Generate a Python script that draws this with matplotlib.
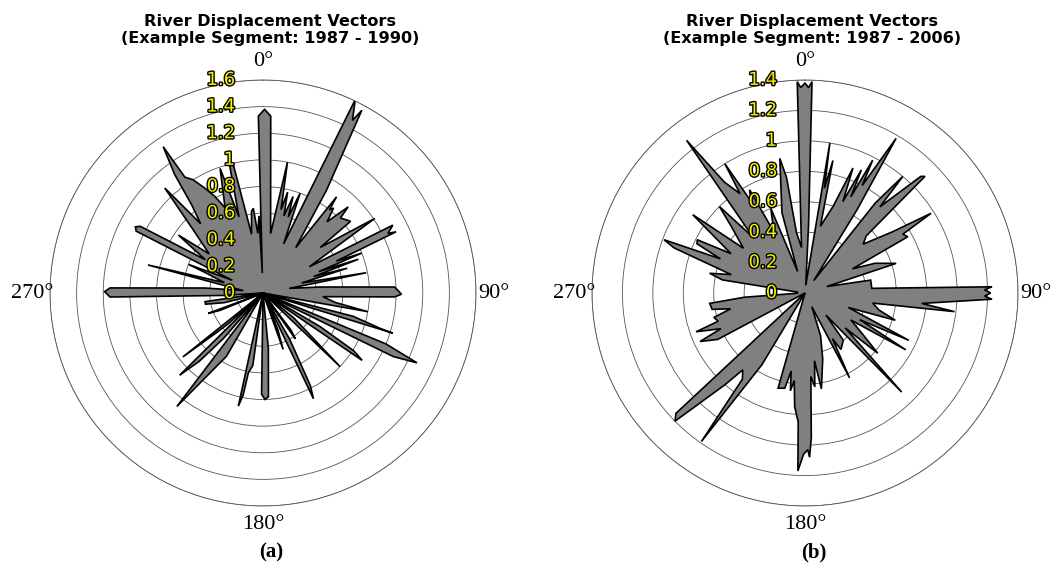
import numpy as np
import matplotlib
matplotlib.use("Agg")
import matplotlib.pyplot as plt
import matplotlib.patheffects as pe
from matplotlib.transforms import ScaledTranslation

# displacement envelope, 1987 - 1990 (angle clockwise from north in deg, magnitude)
theta_a = [0.5, 2.5, 7.3, 10.6, 12.2, 13.7, 15.2, 17.3, 18.4, 20.4, 22.8, 25.5, 27.4, 28.4,
           31.7, 35.8, 37.4, 38.6, 39.7, 42.0, 44.7, 45.9, 50.7, 51.5, 56.3, 57.5, 60.5,
           62.4, 64.5, 65.3, 66.5, 68.0, 69.0, 70.5, 72.0, 73.6, 75.5, 78.9, 80.0, 84.0,
           87.4, 90.5, 91.7, 93.5, 97.5, 100.1, 101.0, 104.5, 106.8, 107.2, 108.0,
           112.5, 114.4, 116.0, 118.5, 120.5, 122.5, 124.2, 125.0, 129.0, 133.7, 135.0,
           143.0, 144.8, 146.0, 150.0, 152.9, 154.5, 155.5, 158.0, 160.4, 161.5,
           174.5, 177.0, 178.9, 180.8, 182.0, 188.0, 190.4, 191.0, 192.3, 193.5,
           210.0, 214.0, 217.2, 218.5, 221.0, 223.0, 225.4, 226.5, 228.5, 229.5, 231.4,
           232.5, 248.0, 249.6, 250.5, 256.0, 259.0, 261.5, 263.0, 266.5, 268.5, 270.5,
           271.9, 274.9, 277.0, 283.7, 285.0, 289.3, 291.0, 292.5, 296.0, 297.4, 298.5,
           300.0, 304.4, 306.0, 312.0, 316.9, 318.0, 321.0, 323.3, 325.7, 326.0, 328.3,
           331.0, 333.5, 336.0, 341.0, 342.5, 345.4, 347.0, 349.0, 352.0, 353.5, 355.0,
           357.0, 358.0, 358.5]
mag_a = [1.38, 1.33, 0.45, 1.00, 0.64, 0.78, 0.60, 0.76, 0.60, 0.80, 0.40, 1.61, 1.46, 1.56,
         0.91, 0.42, 0.91, 0.80, 0.83, 0.72, 0.91, 0.81, 0.85, 0.55, 1.01, 0.70, 0.40,
         1.10, 1.04, 1.10, 0.60, 0.80, 0.45, 0.76, 0.40, 0.66, 0.30, 0.79, 0.20, 0.43,
         0.99, 1.04, 0.99, 0.45, 0.55, 0.80, 0.0, 0.70, 0.92, 1.02, 0.0,
         1.00, 1.27, 1.09, 0.0, 0.50, 0.81, 0.90, 0.0, 0.30, 0.80, 0.0,
         0.35, 0.42, 0.0, 0.40, 0.78, 0.88, 0.0, 0.30, 0.45, 0.0,
         0.42, 0.78, 0.80, 0.76, 0.0, 0.55, 0.61, 0.78, 0.87, 0.0,
         0.55, 0.75, 1.07, 0.0, 0.45, 0.70, 0.88, 0.0, 0.35, 0.45, 0.77,
         0.0, 0.35, 0.44, 0.0, 0.30, 0.44, 0.44, 0.0, 0.30, 1.15, 1.19,
         1.15, 0.44, 0.15, 0.89, 0.30, 0.45, 0.60, 0.25, 1.06, 1.08, 1.05,
         0.50, 0.77, 0.50, 0.70, 1.08, 0.70, 0.85, 1.11, 1.33, 1.05, 1.00,
         0.90, 0.81, 0.70, 0.99, 0.60, 1.00, 0.98, 0.45, 0.62, 0.64, 0.45,
         0.58, 0.15, 1.33]

# displacement envelope, 1987 - 2006
theta_b = [0.0, 1.0, 1.9, 3.0, 5.7, 9.4, 10.5, 11.9, 13.0, 18.0, 21.0, 22.5, 24.6, 25.5,
           27.0, 28.0, 30.5, 32.0, 35.2, 38.0, 40.0, 41.0, 44.8, 45.8, 47.0, 50.0, 55.0,
           57.7, 59.0, 61.3, 63.0, 67.0, 72.0, 73.5, 78.9, 86.0, 88.1, 89.0, 90.0, 91.0,
           91.9, 95.1, 97.1, 98.5, 103.0, 106.8, 108.5, 114.5, 116.0, 119.4, 120.5, 125.0,
           129.6, 131.0, 135.7, 136.5, 141.0, 147.5, 149.0, 152.3, 153.5, 160.0, 165.0,
           170.3, 172.0, 174.0, 176.0, 177.5, 178.4, 179.0, 180.5, 182.3, 183.0, 185.2,
           187.0, 188.5, 190.0, 192.0, 195.8, 197.0, 207.0, 211.0, 214.9, 216.0, 219.0,
           221.1, 225.4, 227.0, 228.5, 238.0, 242.0, 245.2, 247.0, 250.4, 252.0, 255.0,
           258.0, 260.0, 263.8, 266.0, 268.0, 277.0, 279.0, 281.7, 284.0, 289.0, 290.7,
           292.0, 294.5, 296.3, 298.0, 304.9, 306.0, 312.0, 315.3, 317.0, 322.2, 324.0,
           326.8, 328.2, 329.5, 331.8, 333.0, 338.0, 341.0, 344.0, 349.4, 350.9, 352.0,
           355.6, 357.9, 358.8]
mag_b = [1.38, 1.35, 1.39, 0.45, 0.05, 1.00, 0.70, 0.89, 0.45, 0.60, 0.88, 0.65, 0.89, 0.70,
         0.98, 0.80, 1.18, 0.65, 0.10, 0.75, 1.00, 0.75, 1.08, 1.10, 0.55, 0.50, 0.70,
         0.98, 0.75, 0.77, 0.35, 0.50, 0.63, 0.15, 0.44, 0.44, 1.23, 1.18, 1.22, 1.18,
         1.23, 0.77, 0.99, 0.45, 0.50, 0.62, 0.30, 0.75, 0.40, 0.76, 0.35, 0.45,
         0.62, 0.35, 0.91, 0.20, 0.40, 0.44, 0.35, 0.63, 0.10, 0.30, 0.45,
         0.64, 0.45, 0.62, 0.55, 0.95, 1.08, 1.03, 1.06, 1.17, 0.85, 0.75,
         0.58, 0.65, 0.52, 0.64, 0.65, 0.0, 0.0, 0.55, 1.19, 0.70, 0.65,
         0.80, 1.20, 1.16, 0.0, 0.0, 0.65, 0.76, 0.60, 0.76, 0.60, 0.62,
         0.50, 0.62, 0.63, 0.40, 0.05, 0.05, 0.55, 0.64, 0.50, 0.91, 0.99,
         0.60, 0.78, 0.79, 0.55, 0.90, 0.50, 0.65, 0.80, 0.50, 1.27, 0.90,
         0.78, 1.00, 0.70, 0.77, 0.45, 0.60, 0.15, 0.55, 0.90, 0.77, 0.40,
         0.30, 1.39, 1.35]

rings_a = [0, 0.2, 0.4, 0.6, 0.8, 1, 1.2, 1.4, 1.6]
rings_b = [0, 0.2, 0.4, 0.6, 0.8, 1, 1.2, 1.4]
ring_labels_a = ['0', '0.2', '0.4', '0.6', '0.8', '1', '1.2', '1.4', '1.6']
ring_labels_b = ['0', '0.2', '0.4', '0.6', '0.8', '1', '1.2', '1.4']
angle_ticks = [0, 90, 180, 270]
titles = ['River Displacement Vectors\n(Example Segment: 1987 - 1990)',
          'River Displacement Vectors\n(Example Segment: 1987 - 2006)']
captions = ['(a)', '(b)']

fig = plt.figure(figsize=(10.56, 5.69), dpi=100)

def rose(rect, theta, mag, rings, ring_labels, title, caption):
    ax = fig.add_axes(rect, projection='polar')
    ax.set_theta_zero_location('N')
    ax.set_theta_direction(-1)
    rmax = rings[-1]
    ax.set_ylim(0, rmax)
    ax.set_axisbelow(True)
    ax.set_xticks([])
    ax.set_yticks(rings[1:])
    ax.set_yticklabels([])
    ax.yaxis.grid(True, color='#555555', linewidth=0.6)
    ax.spines['polar'].set_color('#555555')
    ax.spines['polar'].set_linewidth(0.6)

    ax.fill(np.deg2rad(theta), mag, facecolor='#808080', edgecolor='black',
            linewidth=1.2, zorder=2)

    # radial labels stacked in a column left of the north axis
    shift = ax.transData + ScaledTranslation(-0.28, 0, fig.dpi_scale_trans)
    for r, lab in zip(rings, ring_labels):
        t = ax.text(0, r, lab, transform=shift, ha='right', va='center',
                    fontsize=13, color='#f0f000', zorder=5, clip_on=False)
        t.set_path_effects([pe.withStroke(linewidth=2.0, foreground='black')])

    for a in angle_ticks:
        ax.text(np.deg2rad(a), rmax * 1.085, str(a) + '\u00b0', ha='center',
                va='center', fontsize=16, family='Liberation Serif', clip_on=False)

    ax.text(0.517, 1.08, title, transform=ax.transAxes, ha='center', va='bottom',
            fontsize=11.6, fontweight='bold', linespacing=1.2)
    ax.text(0.52, -0.11, caption, transform=ax.transAxes, ha='center', va='center',
            fontsize=15, fontweight='bold', family='Liberation Serif')
    return ax

rose([50 / 1056, 63 / 569, 426 / 1056, 426 / 569], theta_a, mag_a, rings_a,
     ring_labels_a, titles[0], captions[0])
rose([592 / 1056, 63 / 569, 426 / 1056, 426 / 569], theta_b, mag_b, rings_b,
     ring_labels_b, titles[1], captions[1])

fig.savefig('out.png', dpi=100)
